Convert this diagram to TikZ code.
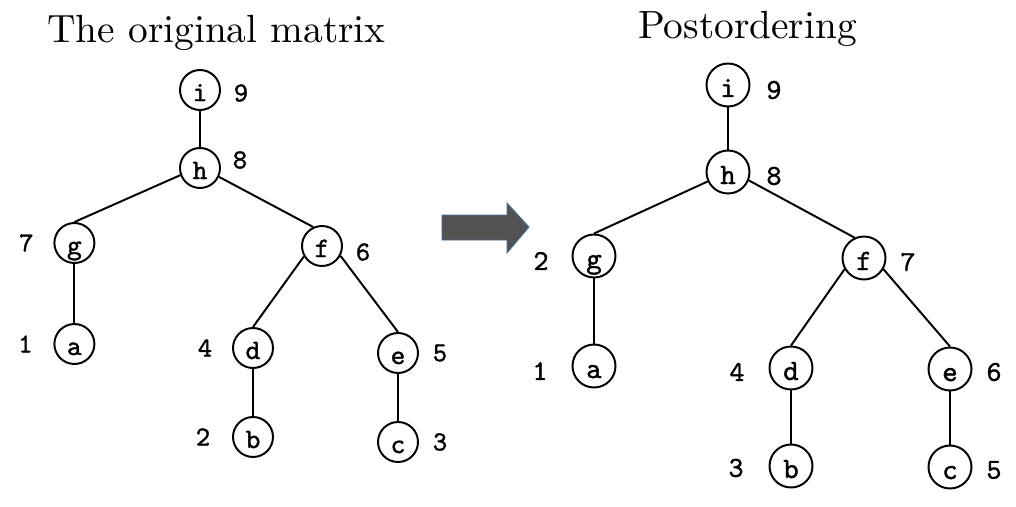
\documentclass[tikz,border=0pt]{standalone}
\usepackage{fontspec}
\newfontfamily\titlefont{lmroman10-regular.otf}
\newfontfamily\treefont{lmmono10-regular.otf}[FakeBold=1.2]
\usetikzlibrary{positioning}
\definecolor{arrowfill}{RGB}{82,82,82}
\definecolor{arrowedge}{RGB}{65,113,156}
\begin{document}
\begin{tikzpicture}[on grid, line width=1.4pt,
  vertex/.style={draw, circle, line width=1.4pt, inner sep=0pt, minimum size=1.0cm, text height=0.55cm, text depth=0cm, font=\fontsize{20}{24}\selectfont\treefont},
  bigvertex/.style={vertex, minimum size=1.075cm, text height=0.6cm, font=\fontsize{21}{25}\selectfont\treefont},
  num/.style={inner sep=0pt, font=\fontsize{19.5}{23}\selectfont\treefont},
  bignum/.style={num, font=\fontsize{20.5}{24}\selectfont\treefont},
  title/.style={inner sep=0pt, anchor=base, font=\fontsize{28}{34}\selectfont\titlefont}]

\useasboundingbox (0,0) rectangle (25.4,-12.675);

\node[title] (T0) at (5.4125,-1.075) {The original matrix};
\node[title] (T1) at (18.6875,-0.975) {Postordering};

\node[vertex] (i0) at (5.0,-2.25) {i};
\node[vertex, below=1.95cm of i0] (h0) {h};
\node[vertex, below left=1.875cm and 3.14cm of h0] (g0) {g};
\node[vertex, below right=1.95cm and 3.05cm of h0] (f0) {f};
\node[vertex, below=2.525cm of g0] (a0) {a};
\node[vertex, below left=2.55cm and 1.725cm of f0] (d0) {d};
\node[vertex, below right=2.675cm and 1.9cm of f0] (e0) {e};
\node[vertex, below=2.225cm of d0] (b0) {b};
\node[vertex, below=2.225cm of e0] (c0) {c};

\node[num, below right=0.075cm and 1.025cm of i0] (ni0) {9};
\node[num, above right=0.2cm and 1.0cm of h0] (nh0) {8};
\node[num, left=1.2cm of g0] (ng0) {7};
\node[num, below right=0.15cm and 1.025cm of f0] (nf0) {6};
\node[num, left=1.225cm of a0] (na0) {1};
\node[num, left=1.2cm of d0] (nd0) {4};
\node[num, right=1.05cm of e0] (ne0) {5};
\node[num, left=1.25cm of b0] (nb0) {2};
\node[num, right=1.05cm of c0] (nc0) {3};

\draw (i0) -- (h0);
\draw (h0.200) -- (g0.north);
\draw (h0.335) -- (f0.115);
\draw (g0) -- (a0);
\draw (f0.210) -- (d0.north);
\draw (f0.332) -- (e0.north);
\draw (d0) -- (b0);
\draw (e0) -- (c0);

\draw[draw=arrowedge, fill=arrowfill, line width=0.6pt] (11.05,-5.375) -- (12.675,-5.375) -- (12.675,-5.075) -- (13.225,-5.675) -- (12.675,-6.325) -- (12.675,-6.0) -- (11.05,-6.0) -- cycle;

\node[bigvertex] (i1) at (18.2,-2.125) {i};
\node[bigvertex, below=2.175cm of i1] (h1) {h};
\node[bigvertex, below left=2.1cm and 3.35cm of h1] (g1) {g};
\node[bigvertex, below right=2.15cm and 3.4cm of h1] (f1) {f};
\node[bigvertex, below=2.75cm of g1] (a1) {a};
\node[bigvertex, below left=2.75cm and 1.825cm of f1] (d1) {d};
\node[bigvertex, below right=2.775cm and 2.15cm of f1] (e1) {e};
\node[bigvertex, below=2.45cm of d1] (b1) {b};
\node[bigvertex, below=2.45cm of e1] (c1) {c};

\node[bignum, below right=0.125cm and 1.15cm of i1] (ni1) {9};
\node[bignum, below right=0.1cm and 1.15cm of h1] (nh1) {8};
\node[bignum, below left=0.125cm and 1.325cm of g1] (ng1) {2};
\node[bignum, below right=0.1cm and 1.1cm of f1] (nf1) {7};
\node[bignum, below left=0.125cm and 1.35cm of a1] (na1) {1};
\node[bignum, below left=0.1cm and 1.35cm of d1] (nd1) {4};
\node[bignum, below right=0.075cm and 1.1cm of e1] (ne1) {6};
\node[bignum, below left=0.05cm and 1.375cm of b1] (nb1) {3};
\node[bignum, below right=0.075cm and 1.1cm of c1] (nc1) {5};

\draw (i1) -- (h1);
\draw (h1.205) -- (g1.north);
\draw (h1.338) -- (f1.115);
\draw (g1) -- (a1);
\draw (f1.210) -- (d1.north);
\draw (f1.330) -- (e1.north);
\draw (d1) -- (b1);
\draw (e1) -- (c1);

\end{tikzpicture}
\end{document}
